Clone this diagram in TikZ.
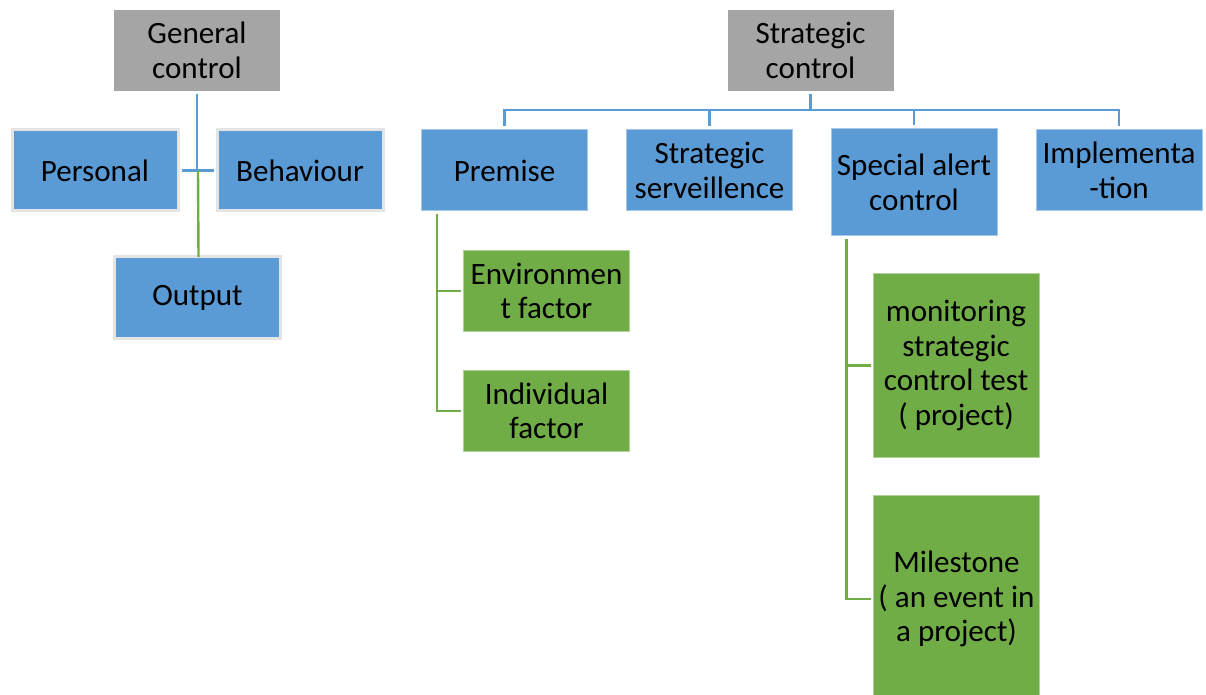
\documentclass[tikz,border=0pt]{standalone}
\usepackage{fontspec}
\setmainfont{Carlito}
\definecolor{ctlblue}{HTML}{5B9BD5}
\definecolor{ctlgreen}{HTML}{70AD47}
\definecolor{ctlgray}{HTML}{A5A5A5}
\definecolor{edgegray}{HTML}{E4E4E4}
\begin{document}
\begin{tikzpicture}[x=0.75pt,y=-0.75pt,
  box/.style={inner sep=0pt, align=center, text=black,
    font=\fontsize{23.3}{25.9}\selectfont,
    minimum width=124.5pt, minimum height=60.75pt},
  graybox/.style={box, fill=ctlgray},
  bluebox/.style={box, fill=ctlblue, draw=ctlblue!55!white, line width=0.75pt},
  rimbox/.style={box, fill=ctlblue, draw=edgegray, line width=2.25pt},
  greenbox/.style={box, fill=ctlgreen, draw=ctlgreen!55!white, line width=0.75pt},
  bline/.style={draw=ctlblue, line width=1.8pt},
  gline/.style={draw=ctlgreen, line width=1.8pt}]
\useasboundingbox (0,0) rectangle (1206,695);

% ---- general control ----
\node[graybox] (gen) at (197,50.5) {General\\control};
\node[rimbox] (per) at (95,170.5) {Personal};
\node[rimbox] (beh) at (300,170.5) {Behaviour};
\node[rimbox] (out) at (197.5,297.5) {Output};

\draw[bline] ([yshift=-2.25pt]gen.south) -- (gen.south |- per.east);
\draw[bline] ([xshift=1.5pt]per.east) -- ([xshift=-1.5pt]beh.west);
\draw[gline] ([xshift=0.75pt]gen.south |- per.east) -- ([xshift=0.75pt,yshift=-1pt]out.north);

% ---- strategic control ----
\node[graybox] (sc) at (810.5,50.5) {Strategic\\control};
\node[bluebox] (pre) at (504.5,170.5) {Premise};
\node[bluebox] (srv) at (709.5,170.5) {Strategic\\serveillence};
\node[bluebox, minimum height=80.25pt] (spc) at (914,182.5) {Special alert\\control};
\node[bluebox] (imp) at (1119,170.5) {Implementa\\-tion};

\coordinate (bus) at (811,110);
\foreach \c in {pre,srv,spc,imp}{
  \draw[bline] ([yshift=-2.25pt]sc.south) -- (sc.south |- bus) -| ([yshift=2.25pt]\c.north);
}

% ---- premise children ----
\node[greenbox] (env) at (546.5,291) {Environmen\\t factor};
\node[greenbox] (ind) at (546.5,411) {Individual\\factor};
\draw[gline] ([xshift=12pt,yshift=-2.25pt]pre.south west) |- ([xshift=-1.5pt]env.west);
\draw[gline] ([xshift=12pt,yshift=-2.25pt]pre.south west) |- ([xshift=-1.5pt]ind.west);

% ---- special alert children ----
\node[greenbox, minimum height=137.25pt] (mon) at (956,365.5)
  {monitoring\\strategic\\control test\\( project)};
\node[greenbox, minimum height=156pt] (mil) at (956.5,599)
  {Milestone\\( an event in\\a project)};
\draw[gline] ([xshift=12pt,yshift=-2.25pt]spc.south west) |- ([xshift=-1.5pt]mon.west);
\draw[gline] ([xshift=12pt,yshift=-2.25pt]spc.south west) |- ([xshift=-1.5pt]mil.west);
\end{tikzpicture}
\end{document}
